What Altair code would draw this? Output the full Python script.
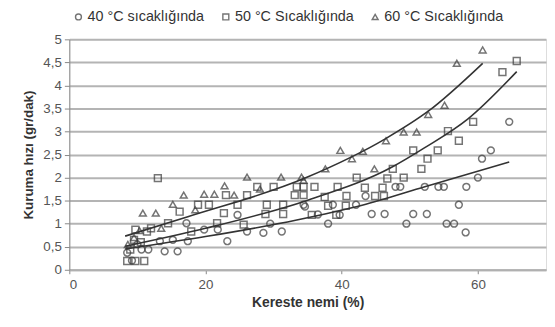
import altair as alt
import pandas as pd

# 40 °C (circles)
x40 = [8.5, 9.2, 10.0, 10.6, 11.6, 13.3, 14.0, 15.2, 15.9, 17.2, 17.4, 19.8, 21.8, 23.2, 24.7, 26.1, 28.5, 29.5,
       31.2, 34.4, 34.6, 36.5, 38.0, 38.7, 39.7, 42.1, 43.5, 44.4, 46.3, 47.9, 48.6, 49.5, 50.5, 52.2, 52.5,
       54.2, 55.0, 55.4, 56.5, 57.2, 58.2, 58.3, 60.0, 60.6, 61.9, 64.6]
y40 = [0.37, 0.20, 0.55, 0.44, 0.44, 0.62, 0.40, 0.65, 0.40, 1.01, 0.62, 0.87, 0.87, 0.62, 1.19, 0.83, 0.80, 1.0,
       0.83, 1.41, 1.37, 1.20, 1.0, 1.41, 1.19, 1.41, 1.60, 1.21, 1.21, 1.80, 1.80, 1.0, 1.21, 1.80, 1.21,
       1.80, 1.80, 1.0, 1.0, 1.41, 0.81, 1.80, 2.0, 2.41, 2.59, 3.21]

# 50 °C (squares)
x50 = [8.5, 9.7, 11.0, 8.95, 9.5, 9.7, 10.5, 11.4, 12.0, 13.0, 14.5, 16.2, 17.9, 18.9, 20.5, 21.7, 22.7, 23.0,
       24.7, 25.6, 26.1, 27.6, 28.8, 29.0, 30.0, 31.4, 31.4, 33.1, 33.4, 34.4, 34.4, 35.6, 36.0, 37.5, 38.0,
       39.2, 39.4, 40.6, 40.7, 42.2, 43.4, 44.9, 46.0, 46.2, 46.7, 47.5, 49.1, 50.5, 51.7, 52.6, 54.1, 55.6,
       57.2, 59.3, 63.6, 65.7]
y50 = [0.19, 0.19, 0.19, 0.44, 0.65, 0.87, 0.60, 0.83, 0.90, 1.99, 1.01, 1.26, 0.83, 1.41, 1.41, 1.01, 1.23, 1.62,
       1.41, 0.98, 1.62, 1.80, 1.21, 1.41, 1.80, 1.41, 1.21, 1.62, 1.80, 1.80, 1.62, 1.19, 1.80, 1.58, 1.39,
       1.19, 1.80, 1.39, 1.60, 2.0, 1.78, 1.60, 1.78, 1.60, 1.98, 2.19, 2.0, 2.59, 2.19, 2.41, 2.59, 3.01,
       2.80, 3.21, 4.29, 4.53]

# 60 °C (triangles)
x60 = [8.6, 9.5, 10.3, 10.8, 12.7, 13.5, 15.2, 16.8, 18.5, 19.8, 21.3, 22.8, 24.2, 26.1, 28.0, 31.1, 34.1, 34.4,
       37.6, 39.8, 41.5, 43.1, 44.8, 46.5, 49.1, 51.0, 52.7, 55.1, 56.9, 60.7]
y60 = [0.55, 0.70, 0.85, 1.23, 1.23, 0.90, 1.42, 1.62, 1.30, 1.64, 1.64, 1.82, 1.62, 2.01, 1.75, 2.01, 2.01, 1.94,
       2.19, 2.59, 2.41, 2.57, 2.19, 2.80, 2.99, 2.99, 3.37, 3.57, 4.48, 4.77]

# trendlines
tx40 = [8.2, 20.0, 33.4, 43.0, 52.2, 64.6]
ty40 = [0.45, 0.72, 1.08, 1.40, 1.80, 2.34]
tx50 = [8.2, 20.0, 34.8, 47.4, 52.2, 58.5, 65.7]
ty50 = [0.51, 0.90, 1.50, 2.23, 2.65, 3.27, 4.30]
tx60 = [8.2, 17.4, 34.8, 46.4, 52.7, 60.7]
ty60 = [0.73, 1.15, 2.00, 2.84, 3.44, 4.48]

y_ticks = [0, 0.5, 1, 1.5, 2, 2.5, 3, 3.5, 4, 4.5, 5]
x_ticks = [0, 20, 40, 60]

names = ["40 °C sıcaklığında", "50 °C Sıcaklığında", "60 °C Sıcaklığında"]
shapes = ["circle", "square", "triangle-up"]

rows = []
for n, xs, ys in zip(names, [x40, x50, x60], [y40, y50, y60]):
    rows += [{"s": n, "x": a, "y": b} for a, b in zip(xs, ys)]
pts = pd.DataFrame(rows)

trows = []
for n, xs, ys in zip(names, [tx40, tx50, tx60], [ty40, ty50, ty60]):
    trows += [{"s": n, "x": a, "y": b} for a, b in zip(xs, ys)]
trend = pd.DataFrame(trows)

xs = alt.Scale(domain=[0, 70], nice=False)
ys = alt.Scale(domain=[0, 5], nice=False)

xax = alt.Axis(values=x_ticks, title="Kereste nemi (%)", grid=False,
               domainColor="#b0b0b0", domainWidth=2, tickColor="#888888", tickSize=4,
               labelColor="#555555", labelFontSize=13.5, labelPadding=4,
               titleFontSize=14, titleFontWeight="bold", titleColor="#333333", titlePadding=5)
yax = alt.Axis(values=y_ticks, title="Kuruma hızı (gr/dak)",
               labelExpr="replace(format(datum.value, '.1~f'), '.', ',')", labelOverlap=False,
               labelBound=False, labelFlush=False,
               grid=True, gridColor="#b4b4b4", gridWidth=2,
               domainColor="#888888", domainWidth=1, tickColor="#888888", tickSize=5,
               labelColor="#555555", labelFontSize=13.5, labelPadding=3,
               titleFontSize=13.5, titleFontWeight="bold", titleColor="#333333", titlePadding=7)

points = alt.Chart(pts).mark_point(filled=False, size=48, strokeWidth=1.5, color="#3a3a3a").encode(
    x=alt.X("x:Q", scale=xs, axis=xax),
    y=alt.Y("y:Q", scale=ys, axis=yax),
    shape=alt.Shape("s:N", scale=alt.Scale(domain=names, range=shapes),
                    legend=alt.Legend(title=None, orient="none", direction="horizontal",
                                      legendX=2, legendY=-30, labelFontSize=14.5,
                                      labelColor="#333333", symbolSize=36, symbolStrokeWidth=1.4,
                                      symbolStrokeColor="#3a3a3a", symbolFillColor="transparent",
                                      symbolOffset=0, labelOffset=2, columnPadding=14)),
)

lines = alt.Chart(trend).mark_line(color="#333333", strokeWidth=1.6, interpolate="monotone").encode(
    x=alt.X("x:Q", scale=xs, axis=xax),
    y=alt.Y("y:Q", scale=ys, axis=yax),
    detail="s:N",
)

chart = alt.layer(points, lines).properties(
    width=482, height=233,
    autosize=alt.AutoSizeParams(type="none"),
    padding={"left": 62, "top": 30, "right": 1, "bottom": 40},
).configure_view(stroke=None).configure(font="Liberation Sans")

chart.save("out.html", embed_options={"renderer": "svg", "actions": False})
